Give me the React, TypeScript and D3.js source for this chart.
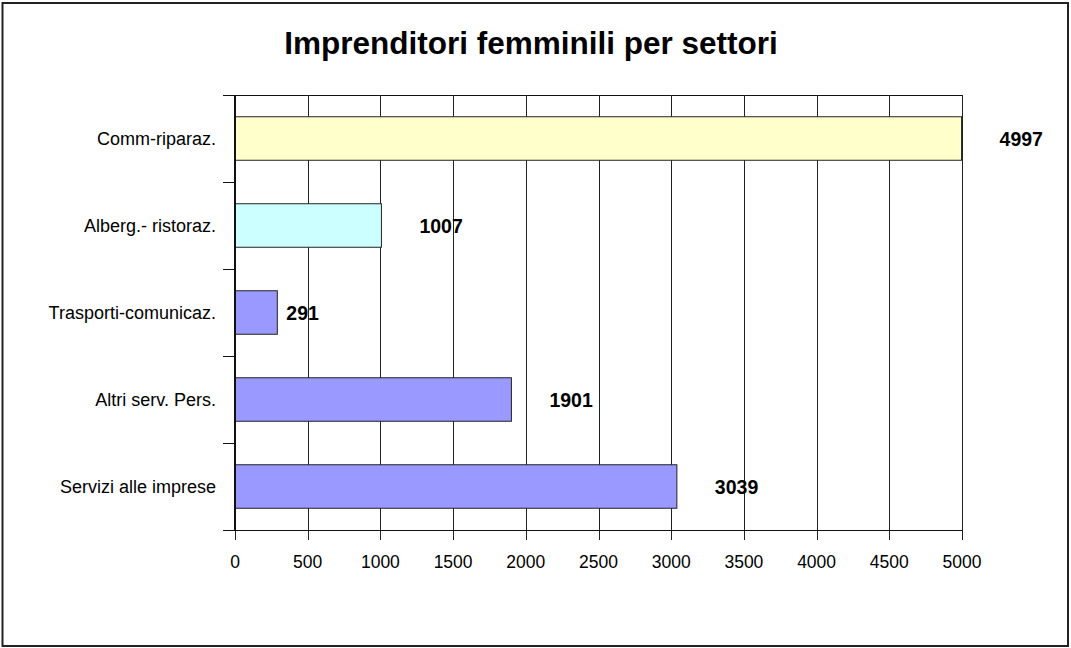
import React from 'react';
import * as d3 from 'd3';

const categories = ['Comm-riparaz.', 'Alberg.- ristoraz.', 'Trasporti-comunicaz.', 'Altri serv. Pers.', 'Servizi alle imprese'];
const values = [4997, 1007, 291, 1901, 3039];
const barColors = ['#FFFFCC', '#CCFFFF', '#9999FF', '#9999FF', '#9999FF'];
const xTicks = [0, 500, 1000, 1500, 2000, 2500, 3000, 3500, 4000, 4500, 5000];
const title = 'Imprenditori femminili per settori';

const width = 1071;
const height = 648;
const plot = { left: 235, right: 962, top: 95, bottom: 530 };
const font = 'Arial, "Liberation Sans", sans-serif';

const x = d3.scaleLinear().domain([0, 5000]).range([plot.left, plot.right]);
const y = d3.scaleBand().domain(categories).range([plot.top, plot.bottom]).paddingInner(0.5).paddingOuter(0.25);
const band = (plot.bottom - plot.top) / categories.length;

const App = () => {
  return (
    <svg width={width} height={height} style={{ position: 'absolute', left: 0, top: 0 }}>
      <rect x={0} y={0} width={width} height={height} fill="#fff" />
      <rect x={2.5} y={3} width={1065.5} height={643} fill="none" stroke="#222" strokeWidth={2} />
      <text x={531} y={54} textAnchor="middle" fontFamily={font} fontWeight="bold" fontSize={31.5}>
        {title}
      </text>

      {/* grid */}
      <line x1={plot.left} x2={plot.right} y1={plot.top + 0.5} y2={plot.top + 0.5} stroke="#111" />
      {xTicks.map(t => (
        <g key={t}>
          <line x1={Math.round(x(t)) + 0.5} x2={Math.round(x(t)) + 0.5} y1={plot.top} y2={plot.bottom + 10} stroke="#222" />
          <text x={x(t)} y={568} textAnchor="middle" fontFamily={font} fontSize={17.5}>{t}</text>
        </g>
      ))}

      {categories.map((c, i) => (
        <g key={c}>
          <rect
            x={plot.left}
            y={y(c)}
            width={x(values[i]) - plot.left}
            height={y.bandwidth()}
            fill={barColors[i]}
            stroke="#222"
            strokeWidth={1}
          />
          <text x={216} y={(y(c) || 0) + y.bandwidth() / 2 + 6.5} textAnchor="end" fontFamily={font} fontSize={18}>{c}</text>
          <text
            x={x(values[i]) + (values[i] < 500 ? 9 : 38)}
            y={(y(c) || 0) + y.bandwidth() / 2 + 7.5}
            fontFamily={font}
            fontWeight="bold"
            fontSize={19.5}
          >
            {values[i]}
          </text>
        </g>
      ))}

      {/* category ticks */}
      {d3.range(categories.length + 1).map(i => (
        <line key={i} x1={223} x2={plot.left} y1={Math.round(plot.top + i * band) + 0.5} y2={Math.round(plot.top + i * band) + 0.5} stroke="#111" />
      ))}
      <line x1={plot.left} x2={plot.right} y1={plot.bottom + 0.5} y2={plot.bottom + 0.5} stroke="#111" />
      <line x1={plot.left} x2={plot.left} y1={plot.top} y2={plot.bottom + 1} stroke="#111" strokeWidth={2} />
    </svg>
  );
};

export default App;
